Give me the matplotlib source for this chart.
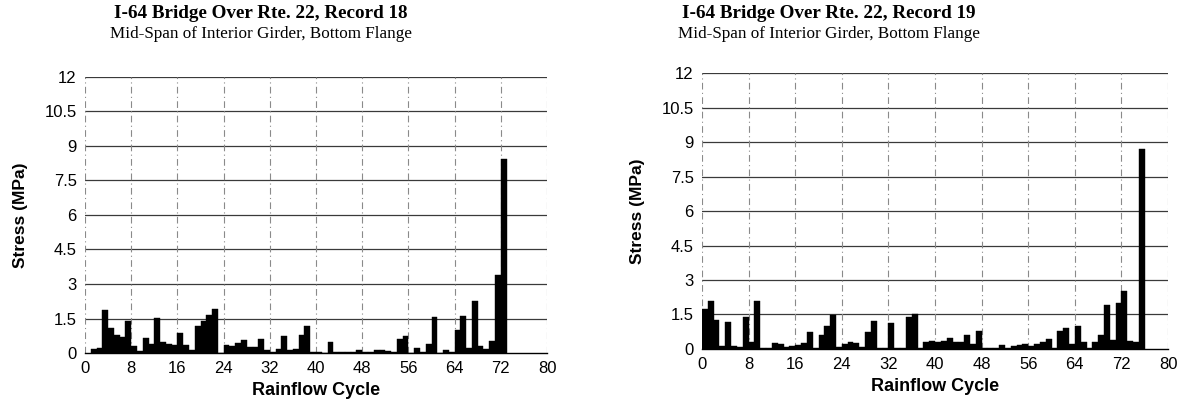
"""Rainflow cycle stress bars for two bridge records (I-64 over Rte. 22)."""

import matplotlib

matplotlib.use("Agg")
import matplotlib.pyplot as plt
import numpy as np

# Record 18: stress range (MPa) per rainflow cycle, cycles 1..72
stress_18 = [
    0.16, 0.21, 1.87, 1.10, 0.80, 0.69, 1.39, 0.29, 0.11, 0.66,
    0.40, 1.54, 0.47, 0.40, 0.37, 0.86, 0.36, 0.14, 1.19, 1.40,
    1.67, 1.93, 0.02, 0.34, 0.32, 0.45, 0.55, 0.28, 0.26, 0.61,
    0.13, 0.03, 0.18, 0.72, 0.15, 0.18, 0.80, 1.19, 0.03, 0.03,
    0.02, 0.47, 0.03, 0.03, 0.03, 0.03, 0.13, 0.05, 0.05, 0.12,
    0.12, 0.10, 0.05, 0.59, 0.73, 0.02, 0.20, 0.03, 0.41, 1.56,
    0.02, 0.12, 0.03, 1.00, 1.63, 0.24, 2.24, 0.30, 0.19, 0.53,
    3.37, 8.45,
]
cycle_18 = np.arange(1, len(stress_18) + 1)

# Record 19: stress range (MPa) per rainflow cycle, cycles 0..75
stress_19 = [
    1.74, 2.10, 1.26, 0.13, 1.16, 0.13, 0.07, 1.40, 0.32, 2.07,
    0.02, 0.03, 0.28, 0.22, 0.08, 0.12, 0.16, 0.26, 0.72, 0.02,
    0.62, 0.98, 1.47, 0.09, 0.20, 0.29, 0.27, 0.08, 0.75, 1.23,
    0.03, 0.02, 1.15, 0.05, 0.02, 1.38, 1.53, 0.03, 0.30, 0.35,
    0.32, 0.33, 0.48, 0.30, 0.30, 0.62, 0.20, 0.80, 0.05, 0.03,
    0.03, 0.18, 0.05, 0.12, 0.15, 0.20, 0.12, 0.20, 0.32, 0.45,
    0.05, 0.80, 0.90, 0.20, 1.00, 0.30, 0.05, 0.30, 0.60, 1.90,
    0.40, 2.00, 2.50, 0.35, 0.30, 8.70,
]
cycle_19 = np.arange(0, len(stress_19))

x_ticks = np.arange(0, 81, 8)
y_ticks = [0, 1.5, 3, 4.5, 6, 7.5, 9, 10.5, 12]
y_tick_labels = ["0", "1.5", "3", "4.5", "6", "7.5", "9", "10.5", "12"]

TITLE = "I-64 Bridge Over Rte. 22, Record {}"
SUBTITLE = "Mid-Span of Interior Girder, Bottom Flange"

SERIF = ["Liberation Serif", "DejaVu Serif"]
SANS = ["Liberation Sans", "DejaVu Sans"]

W, H = 1183, 411


def draw_panel(ax, cycles, stress, record, title_x):
    ax.bar(cycles, stress, width=1.0, align="edge", color="black",
           edgecolor="black", linewidth=0.3, zorder=3)
    ax.set_xlim(0, 80)
    ax.set_ylim(0, 12)
    ax.set_xticks(x_ticks)
    ax.set_yticks(y_ticks)
    ax.set_yticklabels(y_tick_labels)
    for lab in ax.get_xticklabels() + ax.get_yticklabels():
        lab.set_family(SANS)
        lab.set_fontsize(12)
    ax.tick_params(axis="both", length=0, pad=6)

    # solid horizontal grid, dash-dot vertical grid
    for y in y_ticks[1:]:
        ax.axhline(y, color="#3a3a3a", linewidth=0.9, zorder=1)
    for x in x_ticks:
        ax.axvline(x, color="#8a8a8a", linewidth=0.8,
                   linestyle=(0, (6, 3, 1, 3)), zorder=1)
    for side in ("top", "right", "left"):
        ax.spines[side].set_visible(False)
    ax.spines["bottom"].set_color("black")
    ax.spines["bottom"].set_linewidth(1.0)

    ax.set_xlabel("Rainflow Cycle", family=SANS, fontsize=13,
                  fontweight="bold", labelpad=4)
    ax.set_ylabel("Stress (MPa)", family=SANS, fontsize=12.5,
                  fontweight="bold", labelpad=12)

    fig.text(title_x / W, 1 - 14 / H, TITLE.format(record),
             ha="center", va="center", family=SERIF, fontsize=13.8,
             fontweight="bold")
    fig.text(title_x / W, 1 - 34 / H, SUBTITLE,
             ha="center", va="center", family=SERIF, fontsize=12.3)


fig = plt.figure(figsize=(W / 100, H / 100), dpi=100)
ax_left = fig.add_axes([0.0719, 0.141, 0.3905, 0.672])
ax_right = fig.add_axes([0.5934, 0.151, 0.394, 0.671])

draw_panel(ax_left, cycle_18, stress_18, 18, 261)
draw_panel(ax_right, cycle_19, stress_19, 19, 829)

fig.savefig("out.png", dpi=100)
plt.close(fig)
